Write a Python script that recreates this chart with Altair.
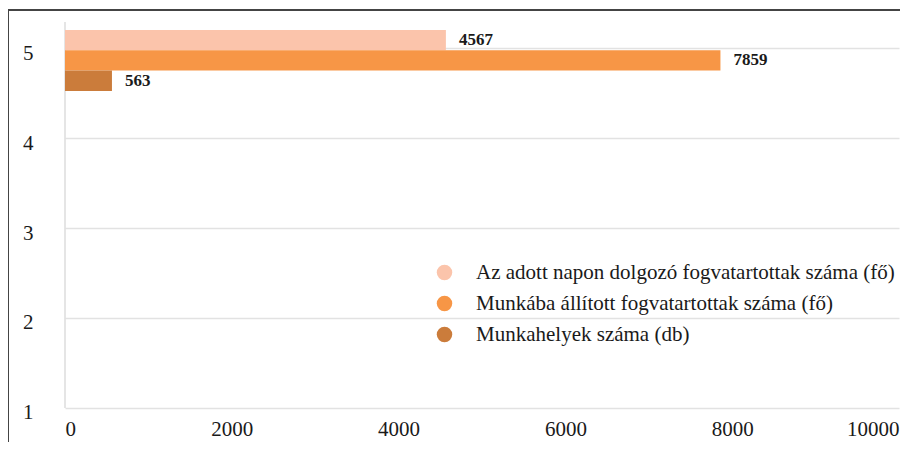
import altair as alt
import pandas as pd

# --- data ---
series = [
    "Az adott napon dolgozó fogvatartottak száma (fő)",
    "Munkába állított fogvatartottak száma (fő)",
    "Munkahelyek száma (db)",
]
values = [4567, 7859, 563]
row = ["5", "5", "5"]
colors = ["#FBC4AB", "#F79646", "#CB7C3B"]
y_categories = ["5", "4", "3", "2", "1"]
x_ticks = [0, 2000, 4000, 6000, 8000, 10000]

df = pd.DataFrame({"sorozat": series, "ertek": values, "sor": row})

FONT = "Liberation Serif"
TXT = "#1a1a1a"

base = alt.Chart(df).encode(
    y=alt.Y(
        "sor:N",
        sort=y_categories,
        scale=alt.Scale(domain=y_categories, range=[-18, 431],
                        paddingInner=0, paddingOuter=0),
        axis=alt.Axis(
            title=None, ticks=False, labelPadding=32, labelAngle=0,
            labelFontSize=21, labelFont=FONT, labelColor=TXT, labelOffset=5,
            domain=False,
            grid=True, gridColor="#e2e2e2", gridWidth=1.5,
        ),
    ),
    yOffset=alt.YOffset(
        "sorozat:N", sort=series,
        scale=alt.Scale(paddingInner=0, paddingOuter=0.708, align=0.9),
    ),
    x=alt.X(
        "ertek:Q",
        stack=None,
        scale=alt.Scale(domain=[0, 10000], nice=False),
        axis=alt.Axis(
            values=x_ticks, title=None, ticks=False, domain=False, grid=False,
            labelFontSize=21, labelFont=FONT, labelColor=TXT, labelPadding=10,
            labelFlush=True, format="d",
        ),
    ),
)

bars = base.mark_bar().encode(
    color=alt.Color(
        "sorozat:N", sort=series,
        scale=alt.Scale(domain=series, range=colors),
        legend=alt.Legend(
            title=None, orient="none", legendX=369, legendY=240,
            symbolType="circle", symbolSize=240, symbolStrokeWidth=0,
            labelFontSize=21, labelFont=FONT, labelColor=TXT,
            labelOffset=21, rowPadding=9, labelLimit=600,
        ),
    )
)

labels = base.mark_text(
    align="left", baseline="middle", dx=13, font=FONT, fontSize=17,
    fontWeight="bold", color=TXT,
).encode(text=alt.Text("ertek:Q", format="d"))

one = alt.Data(values=[{"k": 1}])
y_axis_line = alt.Chart(one).mark_rule(color="#dcdcdc", strokeWidth=1.5).encode(
    x=alt.value(0), y=alt.value(0), y2=alt.value(386)
)
frame_top = alt.Chart(one).mark_rule(color="#444444", strokeWidth=2).encode(
    x=alt.value(-57), x2=alt.value(840), y=alt.value(-12)
)
frame_left = alt.Chart(one).mark_rule(color="#444444", strokeWidth=2).encode(
    x=alt.value(-57), y=alt.value(-12), y2=alt.value(430)
)

chart = (
    alt.layer(y_axis_line, bars, labels, frame_top, frame_left)
    .properties(
        width=834, height=386,
        padding={"left": 57, "top": 14, "right": 1, "bottom": 34},
        autosize=alt.AutoSizeParams(type="none"),
        background="white",
    )
    .configure_view(stroke=None)
)

chart.save("out.html", embed_options={"renderer": "svg", "actions": False})
